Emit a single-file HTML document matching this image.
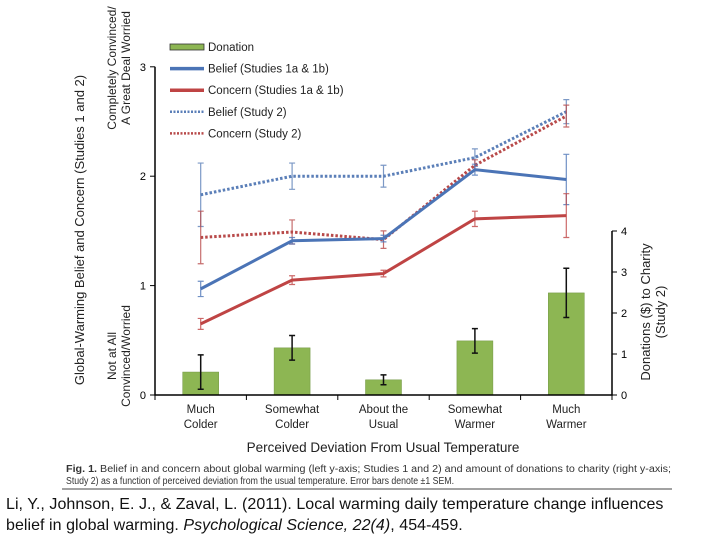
<!DOCTYPE html>
<html><head><meta charset="utf-8"><style>
body{margin:0;width:720px;height:540px;background:#fff;overflow:hidden;font-family:"Liberation Sans",sans-serif}
svg{position:absolute;left:0;top:0}
.cite{position:absolute;left:6px;top:494px;font-size:16px;line-height:21px;color:#111;letter-spacing:0.05px}
</style></head><body>
<svg id="chart" width="720" height="492"></svg>
<div class="cite">Li, Y., Johnson, E. J., &amp; Zaval, L. (2011). Local warming daily temperature change influences<br>belief in global warming. <i>Psychological Science, 22(4)</i>, 454-459.</div>
<script>
const categories=[["Much","Colder"],["Somewhat","Colder"],["About the","Usual"],["Somewhat","Warmer"],["Much","Warmer"]];
const donation=[0.56,1.15,0.37,1.32,2.49];
const donationErr=[0.42,0.3,0.12,0.3,0.6];
const beliefS1=[0.97,1.41,1.43,2.06,1.97];
const beliefS1Err=[0.07,0.03,0.03,0.05,0.23];
const concernS1=[0.65,1.05,1.11,1.61,1.64];
const concernS1Err=[0.05,0.04,0.03,0.07,0.2];
const beliefS2=[1.83,2.00,2.00,2.17,2.59];
const beliefS2Err=[0.29,0.12,0.1,0.08,0.11];
const concernS2=[1.44,1.49,1.42,2.10,2.55];
const concernS2Err=[0.24,0.11,0.08,0.05,0.1];
const leftTicks=[0,1,2,3];
const rightTicks=[0,1,2,3,4];
const svg=document.getElementById('chart');
const NS='http://www.w3.org/2000/svg';
const X0=155,X1=612;
const xs=i=>X0+(i+0.5)*(X1-X0)/categories.length;
const yL=v=>395-v*109.4;
const yR=v=>395-v*41;
function mk(t,a,txt){const e=document.createElementNS(NS,t);for(const k in a)e.setAttribute(k,a[k]);if(txt!=null)e.textContent=txt;svg.appendChild(e);return e;}
donation.forEach((v,i)=>{
const b=mk('rect',{x:xs(i)-18,y:yR(v),width:36,height:395-yR(v),fill:'#8db653',stroke:'#6f9440','stroke-width':0.5});


const e=mk('path',{d:`M${xs(i)} ${yR(v+donationErr[i])}V${yR(v-donationErr[i])}M${xs(i)-3} ${yR(v+donationErr[i])}h6M${xs(i)-3} ${yR(v-donationErr[i])}h6`,stroke:'#111','stroke-width':1.5,fill:'none'});


});
function series(vals,errs,color,dash,w,name){
errs.forEach((er,i)=>{const x=xs(i),v=vals[i];
const e=mk('path',{d:`M${x} ${yL(v+er)}V${yL(v-er)}M${x-3} ${yL(v+er)}h6M${x-3} ${yL(v-er)}h6`,stroke:color,'stroke-width':1.2,fill:'none',opacity:0.8});

});
const l=mk('polyline',{points:vals.map((v,i)=>xs(i)+','+yL(v)).join(' '),fill:'none',stroke:color,'stroke-width':w,'stroke-dasharray':dash});


}
series(beliefS2,beliefS2Err,'#5b7fb8','2.5 2',3,'belief-study2');
series(concernS2,concernS2Err,'#b84a4a','2.5 2',3,'concern-study2');
series(beliefS1,beliefS1Err,'#4b74b6','none',3,'belief-studies1');
series(concernS1,concernS1Err,'#bf4444','none',3,'concern-studies1');
const ax=mk('path',{d:`M${X0} ${yL(3)}V395H${X1}V${yR(4)}`,stroke:'#000','stroke-width':1.5,fill:'none'});


leftTicks.forEach(t=>{mk('line',{x1:X0-5,x2:X0,y1:yL(t),y2:yL(t),stroke:'#000'});
const tx=mk('text',{x:X0-9,y:yL(t)+4,'text-anchor':'end','font-size':11},t);

});
rightTicks.forEach(t=>{mk('line',{x1:X1,x2:X1+5,y1:yR(t),y2:yR(t),stroke:'#000'});
const tx=mk('text',{x:X1+9,y:yR(t)+4,'font-size':11},t);

});
for(let i=0;i<=categories.length;i++){const x=X0+i*(X1-X0)/categories.length;mk('line',{x1:x,x2:x,y1:395,y2:400,stroke:'#000'});}
categories.forEach((c,i)=>{c.forEach((s,j)=>{const tx=mk('text',{x:xs(i),y:413+j*15,'text-anchor':'middle','font-size':11.5,fill:'#222'},s);

});});
function tt(x,y,rot,s,fs,name){const e=mk('text',{x:x,y:y,'text-anchor':'middle','font-size':fs,fill:'#222',transform:rot?`rotate(-90 ${x} ${y})`:''},s);}
tt(383,452,0,'Perceived Deviation From Usual Temperature',13.5,'x-axis-title');
tt(84,230,1,'Global-Warming Belief and Concern (Studies 1 and 2)',13,'left-axis-title');
tt(116,68,1,'Completely Convinced/',12,'left-axis-top-label');
tt(130,68,1,'A Great Deal Worried',12,'left-axis-top-label');
tt(116,356,1,'Not at All',12,'left-axis-bottom-label');
tt(130,356,1,'Convinced/Worried',12,'left-axis-bottom-label');
tt(650,312,1,'Donations ($) to Charity',13,'right-axis-title');
tt(665,312,1,'(Study 2)',13,'right-axis-title');
const leg=[['Donation','#8db653','bar'],['Belief (Studies 1a & 1b)','#4b74b6','none'],['Concern (Studies 1a & 1b)','#bf4444','none'],['Belief (Study 2)','#5b7fb8','2 1.5'],['Concern (Study 2)','#b84a4a','2 1.5']];
leg.forEach((l,i)=>{const y=47+i*21.6;
if(l[2]==='bar'){const r=mk('rect',{x:170,y:y-3,width:34,height:6,fill:l[1],stroke:'#333','stroke-width':0.8});}
else{const r=mk('line',{x1:170,x2:204,y1:y,y2:y,stroke:l[1],'stroke-width':l[2]==='none'?3.5:2.5,'stroke-dasharray':l[2]});}
const t=mk('text',{x:208,y:y+4,'font-size':11.5,fill:'#222'},l[0]);});
const c1=mk('text',{x:66,y:472,'font-size':10,fill:'#333',textLength:605,lengthAdjust:'spacingAndGlyphs'});
c1.innerHTML='<tspan font-weight="bold">Fig. 1.</tspan> Belief in and concern about global warming (left y-axis; Studies 1 and 2) and amount of donations to charity (right y-axis;';


const c2=mk('text',{x:66,y:484,'font-size':10,fill:'#333',textLength:388,lengthAdjust:'spacingAndGlyphs'},'Study 2) as a function of perceived deviation from the usual temperature. Error bars denote ±1 SEM.');


mk('line',{x1:62,x2:672,y1:489,y2:489,stroke:'#444','stroke-width':1});
</script>
</body></html>
